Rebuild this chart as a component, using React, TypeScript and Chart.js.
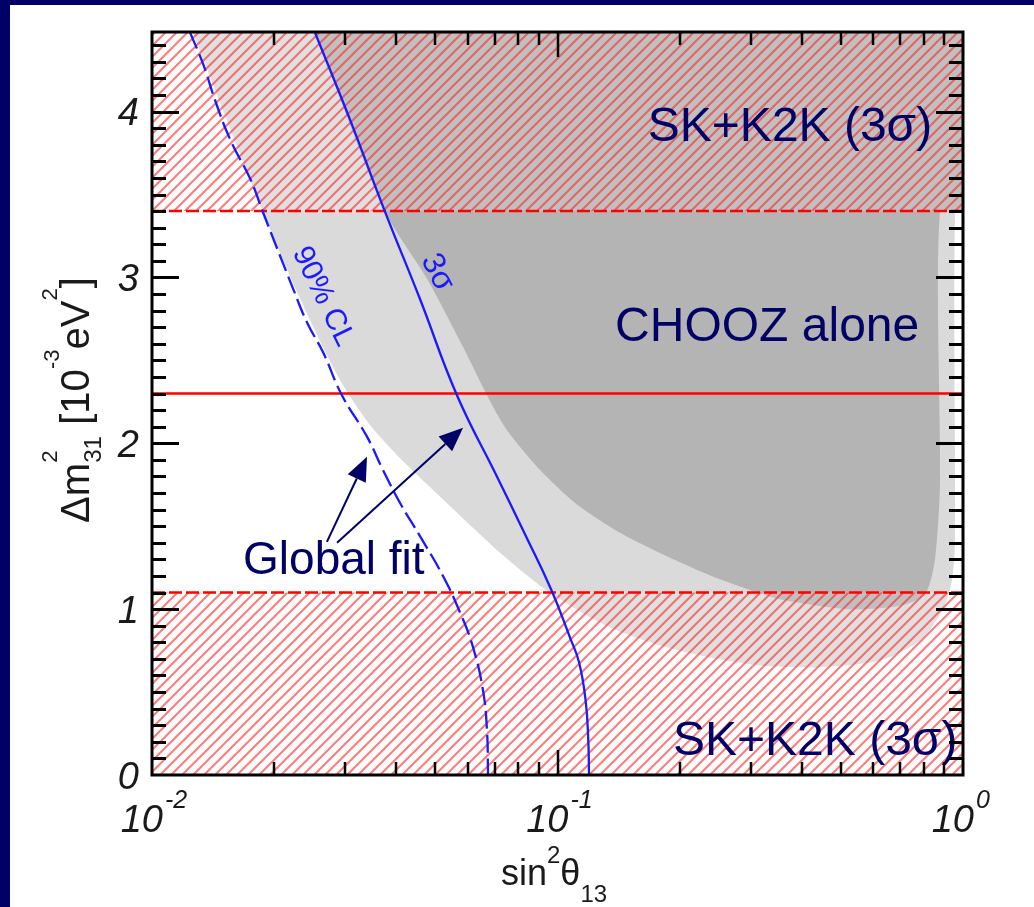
import React, { useEffect, useRef } from "react";
import { Chart, registerables } from "chart.js";

Chart.register(...registerables);

// ---------------- data ----------------
const xMin = 0.01;
const xMax = 1;
const yMin = 0;
const yMax = 4.48;
const xDecadeValues = [0.01, 0.1, 1];
const xDecadeExponents = ["-2", "-1", "0"];
const yTickValues = [0, 1, 2, 3, 4];

// SK+K2K 3 sigma excluded bands (hatched) and best-fit line
const skLowBand = [0, 1.1];
const skHighBand = [3.4, 4.48];
const bestFitDm2 = 2.3;

// Global fit 90% CL (dashed) curve
const cl90X = [0.0124, 0.0134, 0.0143, 0.0156, 0.0175, 0.0188, 0.0223, 0.0241, 0.0264, 0.0294, 0.0339, 0.0371, 0.0409, 0.0458, 0.0522, 0.0575, 0.0619, 0.0655, 0.067, 0.0674];
const cl90Y = [4.48, 4.28, 4.07, 3.83, 3.59, 3.39, 2.93, 2.73, 2.55, 2.29, 2.04, 1.84, 1.64, 1.44, 1.2, 0.98, 0.77, 0.51, 0.27, 0];

// Global fit 3 sigma (solid) curve
const sig3X = [0.0252, 0.0308, 0.0375, 0.0458, 0.0565, 0.0709, 0.0832, 0.0964, 0.1073, 0.113, 0.1173, 0.1191, 0.1196];
const sig3Y = [4.48, 3.95, 3.4, 2.87, 2.29, 1.8, 1.45, 1.12, 0.83, 0.68, 0.45, 0.21, 0];

// CHOOZ alone excluded regions (light = 90% CL, dark = 3 sigma)
const choozLightX = [0.0126, 0.0188, 0.0232, 0.0291, 0.0345, 0.0409, 0.0513, 0.0722, 0.0932, 0.127, 0.169, 0.225, 0.316, 0.444, 0.624, 0.783, 0.893, 0.94, 0.956, 0.956, 1, 1];
const choozLightY = [4.48, 3.39, 2.87, 2.38, 2.11, 1.91, 1.68, 1.34, 1.12, 0.92, 0.8, 0.72, 0.66, 0.65, 0.69, 0.81, 1.0, 1.18, 1.42, 3.4, 3.4, 4.48];
const choozDarkX = [0.0252, 0.0375, 0.0477, 0.0585, 0.067, 0.075, 0.0905, 0.1105, 0.1426, 0.1894, 0.2516, 0.3538, 0.5264, 0.6994, 0.806, 0.853, 0.878, 0.878, 1, 1];
const choozDarkY = [4.48, 3.4, 2.99, 2.58, 2.29, 2.08, 1.84, 1.64, 1.46, 1.31, 1.18, 1.06, 1.0, 1.02, 1.09, 1.3, 1.78, 3.4, 3.4, 4.48];

// ---------------- styling helpers ----------------
const FONT = '"Liberation Sans", Arial, Helvetica, sans-serif';
const NAVY = "#000066";
const BLUE = "#1a1aff";

function zip(xs: number[], ys: number[]) {
  return xs.map((x, i) => ({ x, y: ys[i] }));
}

function band(range: number[]) {
  return [
    { x: xMin, y: range[0] },
    { x: xMax, y: range[0] },
    { x: xMax, y: range[1] },
    { x: xMin, y: range[1] },
  ];
}

function makeHatch(): any {
  const s = 11;
  const c = document.createElement("canvas");
  c.width = s;
  c.height = s;
  const g = c.getContext("2d")!;
  g.fillStyle = "rgba(255,255,255,0.16)";
  g.fillRect(0, 0, s, s);
  g.strokeStyle = "rgba(255,40,40,0.62)";
  g.lineWidth = 2;
  g.beginPath();
  g.moveTo(0, s);
  g.lineTo(s, 0);
  g.stroke();
  g.beginPath();
  g.moveTo(-1, 1);
  g.lineTo(1, -1);
  g.stroke();
  g.beginPath();
  g.moveTo(s - 1, s + 1);
  g.lineTo(s + 1, s - 1);
  g.stroke();
  return g.createPattern(c, "repeat") || "rgba(255,80,80,0.3)";
}

function drawArrow(ctx: CanvasRenderingContext2D, x0: number, y0: number, x1: number, y1: number) {
  const ang = Math.atan2(y1 - y0, x1 - x0);
  const L = 24;
  const W = 10;
  const bx = x1 - L * Math.cos(ang);
  const by = y1 - L * Math.sin(ang);
  ctx.beginPath();
  ctx.moveTo(x0, y0);
  ctx.lineTo(bx, by);
  ctx.stroke();
  ctx.beginPath();
  ctx.moveTo(x1, y1);
  ctx.lineTo(bx - W * Math.sin(ang), by + W * Math.cos(ang));
  ctx.lineTo(bx + W * Math.sin(ang), by - W * Math.cos(ang));
  ctx.closePath();
  ctx.fill();
}

const framePlugin = {
  id: "slideFrame",
  beforeDraw(chart: any) {
    const { ctx, width, height } = chart;
    ctx.save();
    ctx.fillStyle = "#ffffff";
    ctx.fillRect(0, 0, width, height);
    ctx.fillStyle = NAVY;
    ctx.fillRect(0, 0, width, 5);
    ctx.fillRect(0, 0, 10, height);
    ctx.restore();
  },
};

const annotationPlugin = {
  id: "annotations",
  afterDatasetsDraw(chart: any) {
    const { ctx } = chart;
    const X = chart.scales.x;
    const Y = chart.scales.y;
    const px = (v: number) => X.getPixelForValue(v);
    const py = (v: number) => Y.getPixelForValue(v);
    ctx.save();
    ctx.fillStyle = NAVY;
    ctx.textAlign = "left";
    ctx.textBaseline = "alphabetic";
    ctx.font = `48px ${FONT}`;
    ctx.fillText("SK+K2K (3\u03c3)", px(0.167), py(3.82));
    ctx.fillText("CHOOZ alone", px(0.1387), py(2.618));
    ctx.fillText("SK+K2K (3\u03c3)", px(0.1927), py(0.121));
    ctx.font = `46px ${FONT}`;
    ctx.fillText("Global fit", px(0.01677), py(1.213));

    ctx.strokeStyle = NAVY;
    ctx.lineWidth = 2;
    drawArrow(ctx, px(0.027), py(1.406), px(0.0339), py(1.919));
    drawArrow(ctx, px(0.0286), py(1.4), px(0.0585), py(2.094));

    ctx.fillStyle = BLUE;
    ctx.textAlign = "center";
    ctx.textBaseline = "middle";
    ctx.font = `30px ${FONT}`;
    ctx.save();
    ctx.translate(px(0.0264), py(2.884));
    ctx.rotate((64 * Math.PI) / 180);
    ctx.fillText("90% CL", 0, 0);
    ctx.restore();
    ctx.font = `32px ${FONT}`;
    ctx.save();
    ctx.translate(px(0.0505), py(3.03));
    ctx.rotate((63 * Math.PI) / 180);
    ctx.fillText("3\u03c3", 0, 0);
    ctx.restore();
    ctx.restore();
  },
};

function drawSegments(
  ctx: CanvasRenderingContext2D,
  segs: { t: string; f: number; dy: number; stack?: boolean }[],
  startX: number,
  measureOnly: boolean
) {
  let x = startX;
  let lastW = 0;
  for (const s of segs) {
    ctx.font = `${s.f}px ${FONT}`;
    const w = ctx.measureText(s.t).width;
    if (s.stack) {
      const x0 = x - lastW;
      if (!measureOnly) ctx.fillText(s.t, x0, s.dy);
      x = x0 + Math.max(lastW, w);
      lastW = Math.max(lastW, w);
      continue;
    }
    if (!measureOnly) ctx.fillText(s.t, x, s.dy);
    x += w;
    lastW = w;
  }
  return x - startX;
}

const axesPlugin = {
  id: "axesTicks",
  afterDraw(chart: any) {
    const { ctx, chartArea: a } = chart;
    const X = chart.scales.x;
    const Y = chart.scales.y;
    ctx.save();
    ctx.strokeStyle = "#000";
    ctx.lineCap = "butt";

    // y ticks (both sides)
    ctx.lineWidth = 3;
    for (let i = 1; i / 10 < yMax; i++) {
      const v = i / 10;
      const p = Math.round(Y.getPixelForValue(v)) + 0.5;
      const len = i % 10 === 0 ? 27 : 14;
      ctx.beginPath();
      ctx.moveTo(a.left, p);
      ctx.lineTo(a.left + len, p);
      ctx.moveTo(a.right, p);
      ctx.lineTo(a.right - len, p);
      ctx.stroke();
    }
    // x ticks (top and bottom)
    ctx.lineWidth = 2.5;
    for (let d = 0; d < xDecadeValues.length - 1; d++) {
      for (let m = 1; m <= 9; m++) {
        const v = xDecadeValues[d] * m;
        if (v <= xMin) continue;
        const p = Math.round(X.getPixelForValue(v));
        const len = m === 1 ? 25 : 13;
        ctx.beginPath();
        ctx.moveTo(p, a.bottom);
        ctx.lineTo(p, a.bottom - len);
        ctx.moveTo(p, a.top);
        ctx.lineTo(p, a.top + len);
        ctx.stroke();
      }
    }
    ctx.lineWidth = 3;
    ctx.strokeRect(a.left, a.top, a.width, a.height);

    // tick labels
    ctx.fillStyle = "#1a1a1a";
    ctx.textBaseline = "alphabetic";
    for (const v of yTickValues) {
      const p = Y.getPixelForValue(v);
      ctx.font = `italic 38px ${FONT}`;
      ctx.textAlign = "right";
      ctx.fillText(String(v), a.left - 13, p + 13.5);
    }
    xDecadeValues.forEach((v, i) => {
      const p = X.getPixelForValue(v);
      ctx.font = `italic 38px ${FONT}`;
      ctx.textAlign = "right";
      ctx.fillText("10", p + 11, a.bottom + 57);
      ctx.font = `italic 25px ${FONT}`;
      ctx.textAlign = "left";
      ctx.fillText(xDecadeExponents[i], p + 13, a.bottom + 33);
    });

    // x title: sin^2 theta_13
    ctx.textAlign = "left";
    const xSegs = [
      { t: "sin", f: 36, dy: 0 },
      { t: "2", f: 24, dy: -22 },
      { t: "\u03b8", f: 36, dy: 0 },
      { t: "13", f: 24, dy: 17 },
    ];
    ctx.save();
    ctx.translate(501, 885);
    drawSegments(ctx, xSegs, 0, false);
    ctx.restore();

    // y title: Delta m^2_31 [10^-3 eV^2]
    const ySegs = [
      { t: "\u0394m", f: 40, dy: 0 },
      { t: "2", f: 22, dy: -32 },
      { t: "31", f: 24, dy: 12, stack: true },
      { t: " [10", f: 40, dy: 0 },
      { t: "-3", f: 22, dy: -30 },
      { t: "eV", f: 40, dy: 0 },
      { t: "2", f: 22, dy: -32 },
      { t: "]", f: 40, dy: 0 },
    ];
    const natural = drawSegments(ctx, ySegs, 0, true);
    const target = 246;
    ctx.save();
    ctx.translate(89, 400);
    ctx.rotate(-Math.PI / 2);
    ctx.scale(target / natural, 1);
    drawSegments(ctx, ySegs, -natural / 2, false);
    ctx.restore();

    ctx.restore();
  },
};

export default function App() {
  const ref = useRef<HTMLCanvasElement | null>(null);
  useEffect(() => {
    const canvas = ref.current;
    if (!canvas) return;
    const hatch = makeHatch();
    const lineDefaults = { showLine: true, pointRadius: 0, pointHoverRadius: 0 };
    const chart = new Chart(canvas, {
      type: "scatter",
      data: {
        datasets: [
          {
            ...lineDefaults,
            label: "Global fit 3\u03c3",
            data: zip(sig3X, sig3Y),
            borderColor: BLUE,
            borderWidth: 2.3,
            tension: 0.45,
            fill: false,
            order: 0,
          },
          {
            ...lineDefaults,
            label: "Global fit 90% CL",
            data: zip(cl90X, cl90Y),
            borderColor: BLUE,
            borderWidth: 2.3,
            borderDash: [18, 6],
            tension: 0.45,
            fill: false,
            order: 1,
          },
          {
            ...lineDefaults,
            label: "Best fit",
            data: [
              { x: xMin, y: bestFitDm2 },
              { x: xMax, y: bestFitDm2 },
            ],
            borderColor: "#ff0000",
            borderWidth: 2.5,
            fill: false,
            order: 2,
          },
          {
            ...lineDefaults,
            label: "SK+K2K low",
            data: [
              { x: xMin, y: skLowBand[1] },
              { x: xMax, y: skLowBand[1] },
            ],
            borderColor: "#ff0000",
            borderWidth: 2.5,
            borderDash: [13, 4],
            fill: false,
            order: 3,
          },
          {
            ...lineDefaults,
            label: "SK+K2K high",
            data: [
              { x: xMin, y: skHighBand[0] },
              { x: xMax, y: skHighBand[0] },
            ],
            borderColor: "#ff0000",
            borderWidth: 2.5,
            borderDash: [13, 4],
            fill: false,
            order: 4,
          },
          {
            ...lineDefaults,
            label: "SK+K2K excluded low",
            data: band(skLowBand),
            borderWidth: 0,
            borderColor: "rgba(0,0,0,0)",
            backgroundColor: hatch,
            fill: "shape",
            order: 5,
          },
          {
            ...lineDefaults,
            label: "SK+K2K excluded high",
            data: band(skHighBand),
            borderWidth: 0,
            borderColor: "rgba(0,0,0,0)",
            backgroundColor: hatch,
            fill: "shape",
            order: 6,
          },
          {
            ...lineDefaults,
            label: "CHOOZ 3\u03c3",
            data: zip(choozDarkX, choozDarkY),
            borderWidth: 0,
            borderColor: "rgba(0,0,0,0)",
            backgroundColor: "#b4b4b4",
            fill: "shape",
            tension: 0.25,
            order: 7,
          },
          {
            ...lineDefaults,
            label: "CHOOZ 90%",
            data: zip(choozLightX, choozLightY),
            borderWidth: 0,
            borderColor: "rgba(0,0,0,0)",
            backgroundColor: "#dadada",
            fill: "shape",
            tension: 0.25,
            order: 8,
          },
        ] as any,
      },
      options: {
        responsive: false,
        animation: false,
        devicePixelRatio: 1,
        layout: { padding: { left: 152, top: 32, right: 71, bottom: 132 } },
        plugins: { legend: { display: false }, tooltip: { enabled: false } },
        events: [],
        scales: {
          x: { type: "logarithmic", min: xMin, max: xMax, display: false },
          y: { type: "linear", min: yMin, max: yMax, display: false },
        },
      } as any,
      plugins: [framePlugin, annotationPlugin, axesPlugin],
    });
    return () => chart.destroy();
  }, []);

  return (
    <div style={{ position: "fixed", left: 0, top: 0, width: 1034, height: 907 }}>
      <canvas ref={ref} width={1034} height={907} style={{ width: 1034, height: 907, display: "block" }} />
    </div>
  );
}
